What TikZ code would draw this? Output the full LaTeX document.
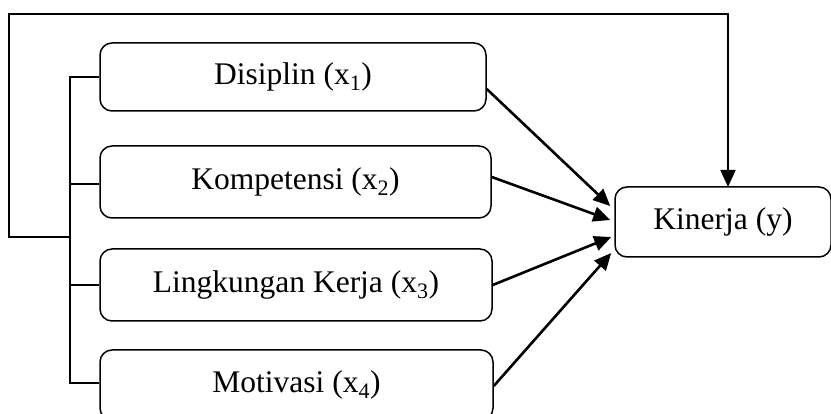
\documentclass[tikz,border=0pt]{standalone}
\usepackage{fontspec}
\setmainfont{Liberation Serif}
\usetikzlibrary{arrows.meta}
\begin{document}
\begin{tikzpicture}[x=1pt,y=-1pt,
  box/.style={draw,line width=1.5pt,rounded corners=12pt,inner sep=0pt,font=\fontsize{31.5}{37}\selectfont},
  conn/.style={line width=1.4pt},
  arr/.style={line width=2.6pt,-{Triangle[length=17pt,width=15pt]}},
  fbarr/.style={line width=1.8pt,-{Triangle[length=17pt,width=15pt]}}]
\useasboundingbox (0,0) rectangle (831,414);
\begin{scope}
\clip (0,0) rectangle (831,414);
\node[box,minimum width=386pt,minimum height=68pt] (d) at (293,77) {Disiplin (x\textsubscript{1})};
\node[box,minimum width=391pt,minimum height=72pt] (k) at (295.5,182) {Kompetensi (x\textsubscript{2})};
\node[box,minimum width=392pt,minimum height=72pt] (l) at (296,285) {Lingkungan Kerja (x\textsubscript{3})};
\node[box,minimum width=393pt,minimum height=70pt] (m) at (296.5,385) {Motivasi (x\textsubscript{4})};
\node[box,minimum width=216pt,minimum height=70pt] (y) at (723,222) {Kinerja (y)};
\end{scope}
\coordinate (bx) at (70,77);
\coordinate (fb) at (70,237);
\coordinate (c1) at (9,14);
\coordinate (kt) at (728,187);
\draw[conn] (d.west) -- (bx) |- ([yshift=2pt]m.west);
\draw[conn] ([yshift=-2pt]k.west) -- ([yshift=-2pt]k.west -| bx);
\draw[conn] (l.west) -- (l.west -| bx);
\draw[fbarr] (fb) -| (c1) -| (kt);
\draw[arr] ([yshift=-12pt]d.east) -- ([xshift=-4pt,yshift=16pt]y.west);
\draw[arr] ([yshift=5pt]k.east) -- ([xshift=-4pt,yshift=2pt]y.west);
\draw[arr] (l.east) -- ([xshift=-3pt,yshift=-15pt]y.west);
\draw[arr] ([yshift=-1pt]m.east) -- ([xshift=-3pt,yshift=-31pt]y.west);
\end{tikzpicture}
\end{document}
